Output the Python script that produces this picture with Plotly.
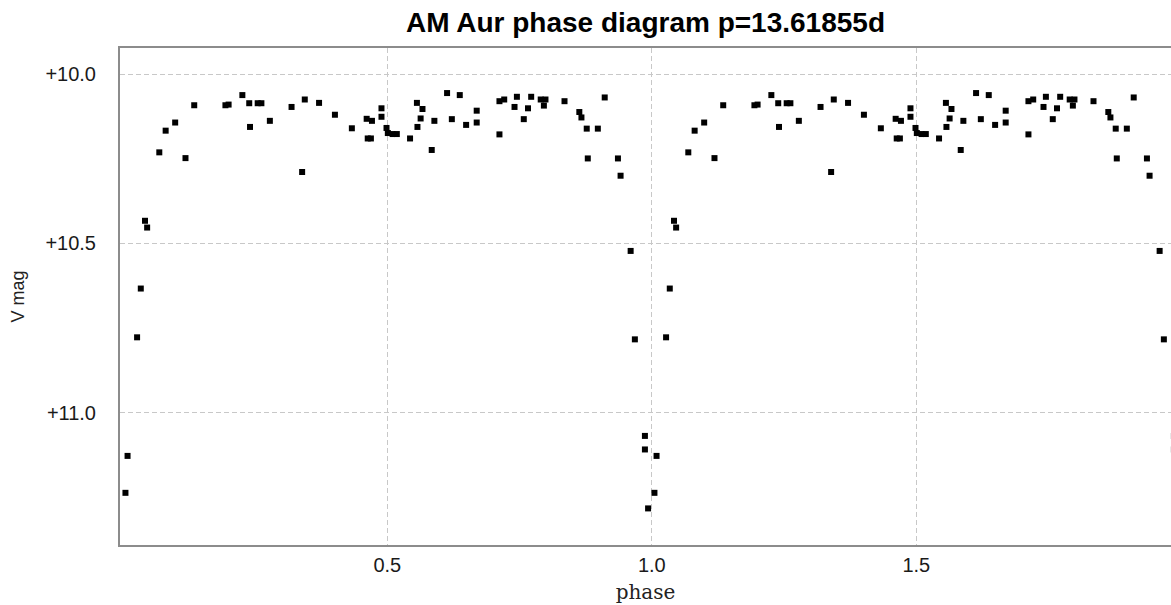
import plotly.graph_objects as go

# One cycle of the phased light curve (phase in [0,1), V magnitude)
phase = [
    0.005, 0.009, 0.027, 0.034, 0.042, 0.046,
    0.069, 0.081, 0.099, 0.1185, 0.135, 0.194, 0.200, 0.226, 0.239, 0.255,
    0.262, 0.2405, 0.278, 0.319, 0.344, 0.371, 0.339, 0.401, 0.433, 0.461,
    0.471, 0.463, 0.469, 0.489, 0.489, 0.4985, 0.501, 0.510, 0.518, 0.543,
    0.556, 0.5665, 0.563, 0.557, 0.584, 0.589, 0.613, 0.637, 0.622, 0.649,
    0.669, 0.669, 0.712, 0.721, 0.712, 0.745, 0.7405, 0.772, 0.766, 0.758,
    0.790, 0.799, 0.796, 0.835, 0.863, 0.867, 0.877, 0.898, 0.911, 0.879,
    0.936, 0.941, 0.960, 0.968, 0.987, 0.987, 0.993,
]
vmag = [
    11.236, 11.127, 10.777, 10.633, 10.433, 10.453,
    10.231, 10.167, 10.143, 10.248, 10.092, 10.092, 10.090, 10.062, 10.086, 10.086,
    10.086, 10.156, 10.138, 10.097, 10.075, 10.085, 10.289, 10.120, 10.160, 10.132,
    10.138, 10.190, 10.190, 10.101, 10.126, 10.159, 10.174, 10.177, 10.177, 10.190,
    10.085, 10.103, 10.131, 10.156, 10.224, 10.138, 10.056, 10.062, 10.133, 10.150,
    10.108, 10.143, 10.080, 10.075, 10.178, 10.067, 10.097, 10.067, 10.101, 10.133,
    10.075, 10.075, 10.093, 10.080, 10.112, 10.128, 10.161, 10.161, 10.069, 10.249,
    10.249, 10.300, 10.522, 10.783, 11.068, 11.108, 11.282,
]

x_ticks = [0.5, 1.0, 1.5]
x_tick_labels = ["0.5", "1.0", "1.5"]
y_ticks = [10.0, 10.5, 11.0]
y_tick_labels = ["+10.0", "+10.5", "+11.0"]
title_text = "AM Aur phase diagram p=13.61855d"

# Phase diagram shown over two cycles
xs = phase + [p + 1 for p in phase]
ys = vmag + vmag

fig = go.Figure()
fig.add_trace(go.Scatter(
    x=xs, y=ys, mode="markers",
    marker=dict(symbol="square", size=6, color="#000000", line=dict(width=0)),
    showlegend=False, hoverinfo="x+y",
))

grid = dict(showgrid=True, gridcolor="#c8c8c8", gridwidth=1, griddash="5px,3px",
            zeroline=False, showline=True, linecolor="#8c8c8c", linewidth=2,
            ticks="", tickfont=dict(family="Liberation Sans, Arial, sans-serif", size=20, color="#1a1a1a"))

fig.update_layout(
    width=1171, height=605,
    margin=dict(l=120, r=0, t=48, b=60),
    paper_bgcolor="white", plot_bgcolor="white",
    title=dict(text=title_text, x=0.5, xanchor="center", xref="paper",
               y=1 - 22 / 605, yref="container", yanchor="middle",
               font=dict(family="Liberation Sans, Arial, sans-serif", size=28, color="#000000", weight="bold")),
    xaxis=dict(range=[-0.0053, 1.9815], tickvals=x_ticks, ticktext=x_tick_labels,
               mirror=True, ticklabelstandoff=1,
               title=dict(text="phase", standoff=10,
                          font=dict(family="DejaVu Serif, Liberation Serif, serif", size=20, color="#222222")),
               **grid),
    yaxis=dict(range=[11.390, 9.923], tickvals=y_ticks, ticktext=y_tick_labels,
               ticklabelstandoff=18,
               title=dict(text="V mag", standoff=16,
                          font=dict(family="Liberation Sans, Arial, sans-serif", size=18, color="#222222")),
               **grid),
)

fig.write_html("out.html")
